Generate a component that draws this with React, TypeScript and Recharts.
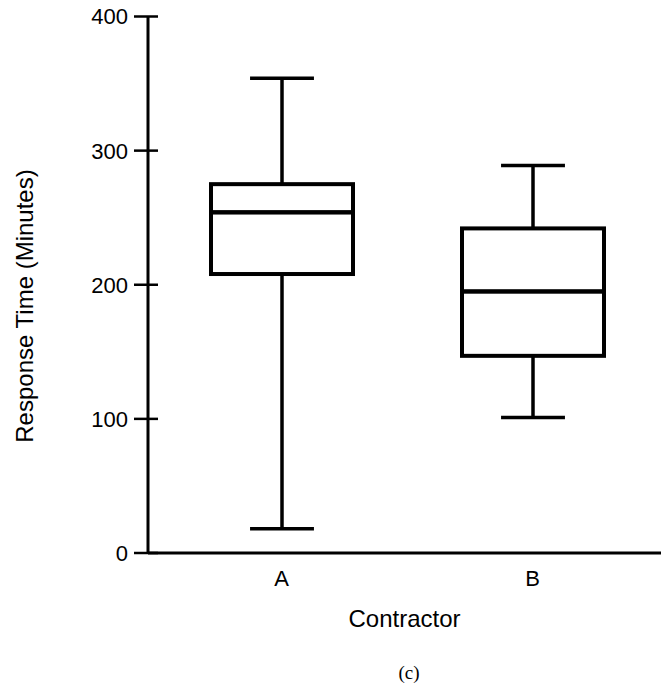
import { ComposedChart, Bar, XAxis, YAxis, Customized } from 'recharts'

const contractors = ['A', 'B']
const minValues = [18, 101]
const q1Values = [208, 147]
const medianValues = [254, 195]
const q3Values = [275, 242]
const maxValues = [354, 289]
const yTicks = [0, 100, 200, 300, 400]

const data = contractors.map((name, i) => ({
  name,
  base: minValues[i],
  lowWhisker: q1Values[i] - minValues[i],
  lowBox: medianValues[i] - q1Values[i],
  highBox: q3Values[i] - medianValues[i],
  highWhisker: maxValues[i] - q3Values[i],
}))

const FONT = '"Liberation Sans", Arial, Helvetica, sans-serif'

const Empty = () => null

const LowWhisker = (props: any) => {
  const { x, y, width, height } = props
  const cx = x + width / 2
  const cap = width * 0.225
  return (
    <g>
      <line x1={cx} x2={cx} y1={y} y2={y + height} stroke="#000" strokeWidth={3.5} />
      <line x1={cx - cap} x2={cx + cap} y1={y + height} y2={y + height} stroke="#000" strokeWidth={3.5} />
    </g>
  )
}

const HighWhisker = (props: any) => {
  const { x, y, width, height } = props
  const cx = x + width / 2
  const cap = width * 0.225
  return (
    <g>
      <line x1={cx} x2={cx} y1={y} y2={y + height} stroke="#000" strokeWidth={3.5} />
      <line x1={cx - cap} x2={cx + cap} y1={y} y2={y} stroke="#000" strokeWidth={3.5} />
    </g>
  )
}

const BoxPart = (props: any) => {
  const { x, y, width, height } = props
  return <rect x={x} y={y} width={width} height={height} fill="none" stroke="#000" strokeWidth={4} />
}

const YTick = (props: any) => {
  const { x, y, payload } = props
  const axisX = x + 20
  return (
    <g>
      <line x1={axisX - 14} x2={axisX + 10} y1={y} y2={y} stroke="#000" strokeWidth={2.5} />
      <text x={x} y={y} dy="0.36em" textAnchor="end" fontSize={22} fontFamily={FONT} fill="#000">
        {payload.value}
      </text>
    </g>
  )
}

const ExtraText = () => (
  <g>
    <text
      x={33}
      y={306}
      transform="rotate(-90 33 306)"
      textAnchor="middle"
      fontSize={24}
      fontFamily={FONT}
      fill="#000"
    >
      Response Time (Minutes)
    </text>
    <text x={409} y={679} textAnchor="middle" fontSize={19} fontFamily='"Liberation Serif", serif' fill="#000">
      (c)
    </text>
  </g>
)

export default function App() {
  return (
    <div style={{ position: 'absolute', left: 0, top: 0, background: '#fff' }}>
      <ComposedChart width={661} height={689} data={data} margin={{ top: 16.5, right: 0, bottom: 0, left: 0 }}>
        <XAxis
          dataKey="name"
          height={136}
          padding={{ left: 8, right: 3 }}
          axisLine={{ stroke: '#000', strokeWidth: 3 }}
          tickLine={false}
          tickSize={0}
          tickMargin={17}
          tick={{ fill: '#000', fontSize: 22, fontFamily: FONT }}
          label={{
            value: 'Contractor',
            position: 'insideBottom',
            offset: 62,
            fill: '#000',
            fontSize: 24,
            fontFamily: FONT,
          }}
        />
        <YAxis
          width={148}
          domain={[0, 400]}
          ticks={yTicks}
          axisLine={{ stroke: '#000', strokeWidth: 3 }}
          tickLine={false}
          tickSize={14}
          tickMargin={6}
          tick={<YTick />}
        />
        <Bar dataKey="base" stackId="box" barSize={142} shape={<Empty />} isAnimationActive={false} />
        <Bar dataKey="lowWhisker" stackId="box" barSize={142} shape={<LowWhisker />} isAnimationActive={false} />
        <Bar dataKey="lowBox" stackId="box" barSize={142} shape={<BoxPart />} isAnimationActive={false} />
        <Bar dataKey="highBox" stackId="box" barSize={142} shape={<BoxPart />} isAnimationActive={false} />
        <Bar dataKey="highWhisker" stackId="box" barSize={142} shape={<HighWhisker />} isAnimationActive={false} />
        <Customized component={ExtraText} />
      </ComposedChart>
    </div>
  )
}
